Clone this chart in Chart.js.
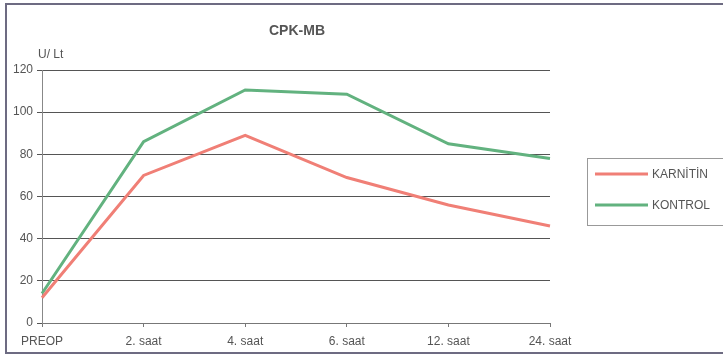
<!DOCTYPE html>
<html>
<head>
<meta charset="utf-8">
<script src="https://cdn.jsdelivr.net/npm/chart.js@4/dist/chart.umd.min.js"></script>
<style>
  html, body { margin: 0; padding: 0; background: #fff; }
  #wrap { width: 723px; height: 359px; }
</style>
</head>
<body>
<div id="wrap"><canvas id="cpk" width="723" height="359"></canvas></div>
<script>
// values
const labels = ["PREOP", "2. saat", "4. saat", "6. saat", "12. saat", "24. saat"];
const karnitin = [12, 70, 89, 69, 56, 46];
const kontrol = [14, 86, 110.5, 108.5, 85, 78];
const yTicks = [0, 20, 40, 60, 80, 100, 120];

const RED = "#f07f76";
const GREEN = "#62b27f";
const FONT = "'Liberation Sans', Arial, sans-serif";

// frame (open on the right), title, unit label and the boxed legend
const decor = {
  id: "decor",
  afterDraw(chart) {
    const ctx = chart.ctx;
    ctx.save();
    ctx.strokeStyle = "#6d6b82";
    ctx.lineWidth = 2;
    ctx.beginPath();
    ctx.moveTo(723, 4);
    ctx.lineTo(6, 4);
    ctx.lineTo(6, 353);
    ctx.lineTo(723, 353);
    ctx.stroke();

    ctx.fillStyle = "#555";
    ctx.font = "bold 14px " + FONT;
    ctx.textAlign = "center";
    ctx.textBaseline = "middle";
    ctx.fillText("CPK-MB", 297, 31);

    ctx.font = "12px " + FONT;
    ctx.textAlign = "left";
    ctx.fillText("U/ Lt", 38, 55);

    // legend
    ctx.strokeStyle = "#999";
    ctx.lineWidth = 1;
    ctx.strokeRect(587.5, 158.5, 140, 67);
    chart.data.datasets.forEach((ds, i) => {
      const y = 174 + i * 31;
      ctx.strokeStyle = ds.borderColor;
      ctx.lineWidth = 3;
      ctx.beginPath();
      ctx.moveTo(595, y);
      ctx.lineTo(648, y);
      ctx.stroke();
      ctx.fillStyle = "#555";
      ctx.font = "12px " + FONT;
      ctx.fillText(ds.label, 652, y + 1);
    });
    ctx.restore();
  },
};

new Chart(document.getElementById("cpk"), {
  type: "line",
  data: {
    labels: labels,
    datasets: [
      { label: "KARNİTİN", data: karnitin, borderColor: RED, backgroundColor: RED },
      { label: "KONTROL", data: kontrol, borderColor: GREEN, backgroundColor: GREEN },
    ],
  },
  options: {
    responsive: false,
    animation: false,
    layout: { padding: { top: 70, right: 173, bottom: 0, left: 0 } },
    elements: {
      line: { borderWidth: 3, tension: 0 },
      point: { radius: 0 },
    },
    plugins: {
      legend: { display: false },
      tooltip: { enabled: false },
    },
    scales: {
      x: {
        offset: false,
        afterFit: (s) => { s.height = 36; },
        grid: { drawOnChartArea: false, drawTicks: true, tickLength: 4, color: "#777" },
        border: { color: "#777" },
        ticks: { color: "#555", font: { family: FONT, size: 12 }, padding: 7, maxRotation: 0 },
      },
      y: {
        min: 0,
        max: 120,
        afterFit: (s) => { s.width = 42; },
        afterBuildTicks: (s) => { s.ticks = yTicks.map((v) => ({ value: v })); },
        grid: { color: "#555", tickLength: 5 },
        border: { color: "#888" },
        ticks: { color: "#555", font: { family: FONT, size: 12 }, padding: 4 },
      },
    },
  },
  plugins: [decor],
});
</script>
</body>
</html>
